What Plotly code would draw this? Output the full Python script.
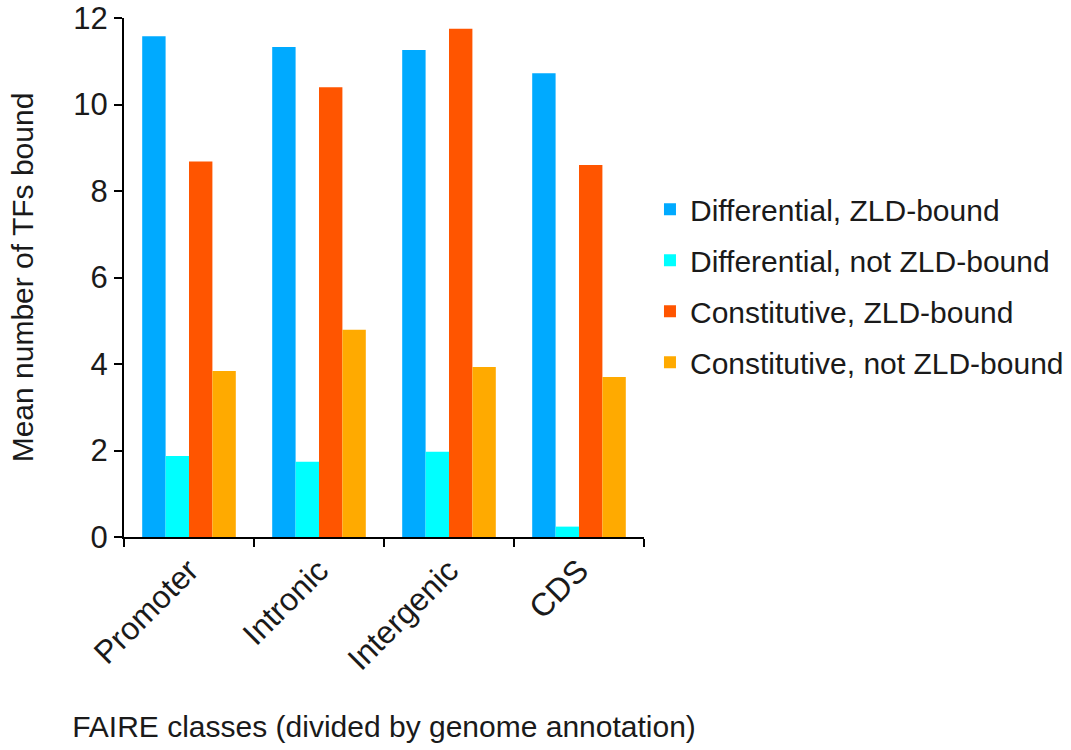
import plotly.graph_objects as go

categories = ["Promoter", "Intronic", "Intergenic", "CDS"]
series_names = [
    "Differential, ZLD-bound",
    "Differential, not ZLD-bound",
    "Constitutive, ZLD-bound",
    "Constitutive, not ZLD-bound",
]
diff_zld = [11.58, 11.33, 11.26, 10.72]
diff_not_zld = [1.87, 1.74, 1.97, 0.24]
const_zld = [8.68, 10.4, 11.75, 8.6]
const_not_zld = [3.84, 4.79, 3.93, 3.7]
colors = ["#00AAFF", "#00FFFF", "#FF5500", "#FFAA00"]

FONT = "Liberation Sans, Arial, sans-serif"
TXT = "#1a1a1a"

fig = go.Figure()
for i, (name, vals) in enumerate(zip(series_names, [diff_zld, diff_not_zld, const_zld, const_not_zld])):
    fig.add_trace(go.Bar(
        x=categories, y=vals, name=name,
        marker=dict(color=colors[i], line=dict(width=0)),
        legendgroup=f"g{i}",
    ))

fig.update_layout(
    width=1071, height=750,
    barmode="group", bargap=0.28, bargroupgap=0,
    plot_bgcolor="white", paper_bgcolor="white",
    margin=dict(l=124, r=427, t=18, b=213, autoexpand=False),
    font=dict(family=FONT, color=TXT),
    legend=dict(
        x=1.0115, xanchor="left", y=0.484, yanchor="middle",
        font=dict(size=30, family=FONT, color=TXT),
        traceorder="grouped", tracegroupgap=9,
        bgcolor="rgba(0,0,0,0)",
    ),
    showlegend=True,
)
fig.update_yaxes(
    range=[0, 12], tickvals=[0, 2, 4, 6, 8, 10, 12],
    showgrid=False, zeroline=False, automargin=False,
    showline=True, linecolor="black", linewidth=2,
    ticks="outside", ticklen=8, tickwidth=2, tickcolor="black",
    tickfont=dict(size=31, family=FONT, color=TXT),
    title=dict(text="Mean number of TFs bound", font=dict(size=30, family=FONT, color=TXT), standoff=31),
)
fig.update_xaxes(
    showgrid=False, showline=True, linecolor="black", linewidth=2, automargin=False,
    ticks="outside", tickson="boundaries", ticklen=8, tickwidth=2, tickcolor="black",
    tickangle=-45,
    tickfont=dict(size=32, family=FONT, color=TXT),
    title=dict(text="FAIRE classes (divided by genome annotation)", font=dict(size=30, family=FONT, color=TXT), standoff=40),
)

fig.write_html("out.html", config={"displayModeBar": False},
               post_script="document.body.style.margin='0';")
